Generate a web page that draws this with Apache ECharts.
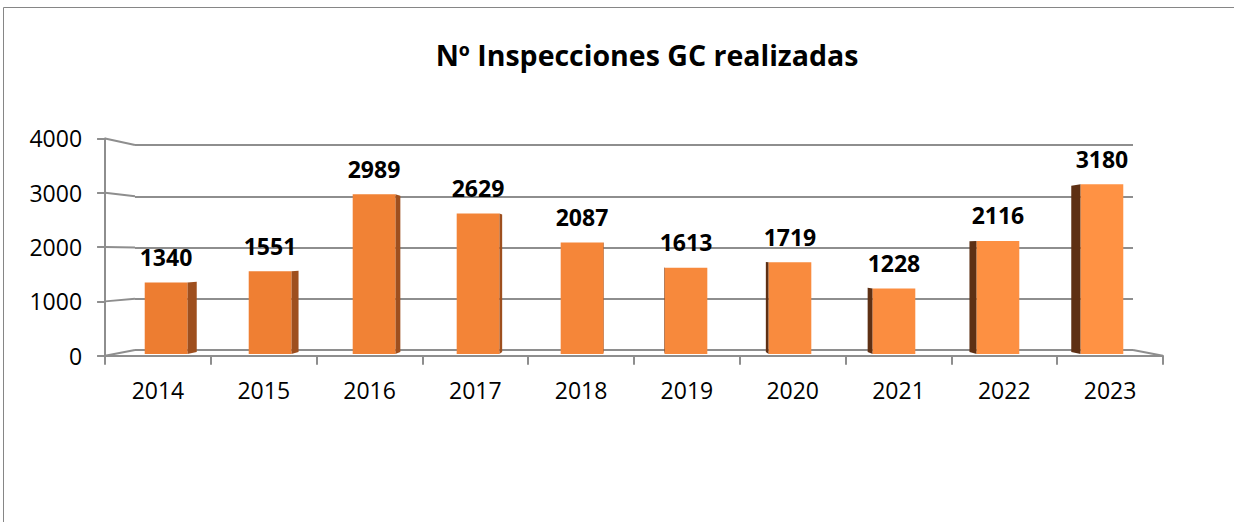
<!DOCTYPE html>
<html>
<head>
<meta charset="utf-8">
<script src="https://cdn.jsdelivr.net/npm/echarts@6/dist/echarts.min.js"></script>
<style>
html, body { margin: 0; padding: 0; background: #fff; }
#main { width: 1234px; height: 522px; }
</style>
</head>
<body>
<div id="main"></div>
<script>
var years = ['2014', '2015', '2016', '2017', '2018', '2019', '2020', '2021', '2022', '2023']
var inspecciones = [1340, 1551, 2989, 2629, 2087, 1613, 1719, 1228, 2116, 3180]
var yTicks = [0, 1000, 2000, 3000, 4000]

var FONT = '"Open Sans", "DejaVu Sans", sans-serif'
var gray = '#8e8e8e'

// back wall of the 3d box, the other planes are scaled from it around the vanishing point
var vp = [634, 255]
var back = { left: 135, top: 145, width: 998, height: 205 }
function scaled (k) {
  return {
    left: vp[0] - (vp[0] - back.left) * k,
    top: vp[1] - (vp[1] - back.top) * k,
    width: back.width * k,
    height: back.height * k
  }
}
var front = scaled(1.06)
var mid = scaled(1.042)
function toward (p, k) {
  return [vp[0] + (p[0] - vp[0]) * k, vp[1] + (p[1] - vp[1]) * k]
}

function hex (c) { return [1, 3, 5].map(function (i) { return parseInt(c.substr(i, 2), 16) }) }
function mix (a, b, t) {
  var x = hex(a), y = hex(b)
  return 'rgb(' + x.map(function (v, i) { return Math.round(v + (y[i] - v) * t) }).join(',') + ')'
}

function renderConnector (params, api) {
  var c = params.coordSys
  var y = api.coord([0, api.value(1)])[1]
  var kids = []
  var b = [c.x, y]
  var f = toward(b, 1.06)
  kids.push({ type: 'line', shape: { x1: f[0], y1: f[1], x2: b[0], y2: b[1] }, style: { stroke: gray, lineWidth: 2 } })
  if (api.value(1) === 0) {
    var b2 = [c.x + c.width, y]
    var f2 = toward(b2, 1.06)
    kids.push({ type: 'line', shape: { x1: f2[0], y1: f2[1], x2: b2[0], y2: b2[1] }, style: { stroke: gray, lineWidth: 2 } })
  }
  return { type: 'group', children: kids }
}

function renderBar (params, api) {
  var i = api.value(0)
  var v = api.value(1)
  var top = api.coord([i, v])
  var base = api.coord([i, 0])
  var w = api.size([1, 0])[0] * 0.41
  var x0 = top[0] - w / 2
  var x1 = top[0] + w / 2
  var leftSide = top[0] > vp[0]
  var edge = leftSide ? x0 : x1
  var bt = toward([edge, top[1]], 0.979)
  var bb = toward([edge, base[1]], 0.979)
  var t = i / (years.length - 1)
  return {
    type: 'group',
    children: [
      {
        type: 'polygon',
        shape: { points: [[edge, top[1]], bt, bb, [edge, base[1]]] },
        style: { fill: leftSide ? '#5e3014' : '#9e4f1e' }
      },
      {
        type: 'rect',
        shape: { x: x0, y: top[1], width: w, height: base[1] - top[1] },
        style: { fill: mix('#ED7D31', '#FF9244', t) }
      },
      {
        type: 'text',
        style: {
          text: String(v),
          x: top[0],
          y: top[1] - 14,
          font: 'bold 23px ' + FONT,
          fill: '#000',
          textAlign: 'center',
          textVerticalAlign: 'bottom',
          align: 'center',
          verticalAlign: 'bottom'
        }
      }
    ]
  }
}

function gridOf (g) {
  return { left: g.left, top: g.top, width: g.width, height: g.height }
}

var myChart = echarts.init(document.getElementById('main'), null, { renderer: 'svg' })
myChart.setOption({
  animation: false,
  textStyle: { fontFamily: FONT },
  graphic: [
    {
      type: 'rect',
      silent: true,
      shape: { x: 3.5, y: 7.5, width: 1300, height: 600 },
      style: { fill: 'none', stroke: '#868686', lineWidth: 1 }
    },
    {
      type: 'text',
      x: 647,
      y: 55,
      style: {
        text: 'Nº Inspecciones GC realizadas',
        font: 'bold 28.5px ' + FONT,
        fill: '#000',
        textAlign: 'center',
        textVerticalAlign: 'middle',
        align: 'center',
        verticalAlign: 'middle'
      }
    }
  ],
  grid: [gridOf(front), gridOf(mid), gridOf(back)],
  xAxis: [
    {
      type: 'category',
      gridIndex: 0,
      data: years,
      boundaryGap: true,
      axisLine: { show: true, lineStyle: { color: gray, width: 2 } },
      axisTick: { show: true, interval: 0, length: 9, lineStyle: { color: gray, width: 2 } },
      axisLabel: { margin: 23, fontSize: 23, color: '#000', fontFamily: FONT },
      splitLine: { show: false }
    },
    { type: 'category', gridIndex: 1, data: years, show: false },
    { type: 'category', gridIndex: 2, data: years, show: false }
  ],
  yAxis: [
    {
      type: 'value',
      gridIndex: 0,
      min: 0,
      max: 4000,
      interval: 1000,
      axisLine: { show: true, lineStyle: { color: gray, width: 2 } },
      axisTick: { show: true, length: 8, lineStyle: { color: gray, width: 2 } },
      axisLabel: {
        margin: 23,
        fontSize: 23,
        color: '#000',
        fontFamily: FONT,
        formatter: function (v) { return String(v) }
      },
      splitLine: { show: false }
    },
    { type: 'value', gridIndex: 1, min: 0, max: 4000, interval: 1000, show: false },
    {
      type: 'value',
      gridIndex: 2,
      min: 0,
      max: 4000,
      interval: 1000,
      axisLine: { show: false },
      axisTick: { show: false },
      axisLabel: { show: false },
      splitLine: { show: true, lineStyle: { color: gray, width: 2 } }
    }
  ],
  series: [
    {
      type: 'custom',
      name: 'pared',
      xAxisIndex: 2,
      yAxisIndex: 2,
      silent: true,
      renderItem: renderConnector,
      data: yTicks.map(function (v) { return [0, v] })
    },
    {
      type: 'custom',
      name: 'Nº Inspecciones',
      xAxisIndex: 1,
      yAxisIndex: 1,
      renderItem: renderBar,
      encode: { x: 0, y: 1 },
      data: years.map(function (y, i) { return [i, inspecciones[i]] })
    }
  ]
})
</script>
</body>
</html>
